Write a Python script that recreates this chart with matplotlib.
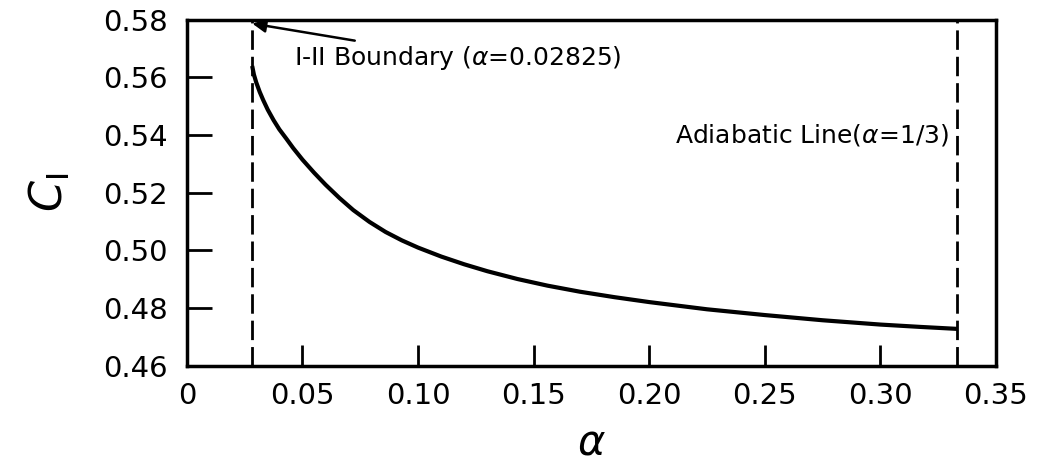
import numpy as np
import matplotlib
matplotlib.use("Agg")
import matplotlib.pyplot as plt

# Curve
alpha = [0.02825, 0.0290, 0.0300, 0.0315, 0.0330, 0.0350, 0.0375, 0.0400,
         0.0430, 0.0460, 0.0500, 0.0550, 0.0600, 0.0660, 0.0720, 0.0790,
         0.0860, 0.0930, 0.1000, 0.1100, 0.1200, 0.1300, 0.1430, 0.1560,
         0.1700, 0.1850, 0.2000, 0.2250, 0.2500, 0.2750, 0.3000, 0.3170,
         1 / 3]
c_one = [0.5640, 0.5610, 0.5583, 0.5550, 0.5522, 0.5488, 0.5452, 0.5420,
         0.5388, 0.5355, 0.5315, 0.5270, 0.5228, 0.5182, 0.5140, 0.5099,
         0.5064, 0.5035, 0.5010, 0.4979, 0.4952, 0.4928, 0.4901, 0.4878,
         0.4857, 0.4838, 0.4821, 0.4796, 0.4776, 0.4758, 0.4743, 0.4735,
         0.4728]

boundary = 0.02825
adiabatic = 1 / 3

x_ticks = [0, 0.05, 0.10, 0.15, 0.20, 0.25, 0.30, 0.35]
x_labels = ["0", "0.05", "0.10", "0.15", "0.20", "0.25", "0.30", "0.35"]
y_ticks = [0.46, 0.48, 0.50, 0.52, 0.54, 0.56, 0.58]
y_labels = ["0.46", "0.48", "0.50", "0.52", "0.54", "0.56", "0.58"]

fig = plt.figure(figsize=(10.44, 4.72), dpi=100)
ax = fig.add_axes([0.179, 0.225, 0.775, 0.733])

ax.plot(alpha, c_one, color="black", lw=3, solid_capstyle="butt",
        solid_joinstyle="round")
for xv in (boundary, adiabatic):
    ax.axvline(xv, color="black", lw=2, dashes=(7, 2.5))

ax.set_xlim(0, 0.35)
ax.set_ylim(0.46, 0.58)
ax.set_xticks(x_ticks)
ax.set_xticklabels(x_labels)
ax.set_yticks(y_ticks)
ax.set_yticklabels(y_labels)
ax.tick_params(axis="x", direction="in", length=15, width=2, labelsize=21, pad=12)
ax.tick_params(axis="y", direction="in", length=18, width=2, labelsize=21, pad=14)
for s in ax.spines.values():
    s.set_linewidth(2.5)

ax.set_xlabel(r"$\alpha$", fontsize=30, labelpad=8)
ax.set_ylabel(r"$C_{\rm I}$", fontsize=32, labelpad=22)

ax.annotate(r"I-II Boundary ($\alpha$=0.02825)", xy=(0.0283, 0.5787),
            xytext=(0.0465, 0.5668), fontsize=18, va="center",
            arrowprops=dict(arrowstyle="-|>", color="black", lw=1.8,
                            mutation_scale=20, shrinkA=2, shrinkB=0))
ax.text(0.3295, 0.540, r"Adiabatic Line($\alpha$=1/3)", fontsize=18,
        ha="right", va="center")

fig.savefig("out.png", dpi=100)
